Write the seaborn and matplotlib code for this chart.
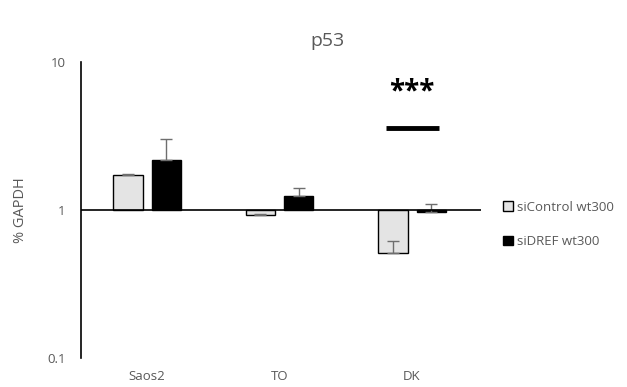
import matplotlib
matplotlib.use("Agg")
import matplotlib.pyplot as plt
import seaborn as sns
import pandas as pd
from matplotlib.patches import Patch

categories = ["Saos2", "TO", "DK"]
conditions = ["siControl wt300", "siDREF wt300"]
si_control = [1.72, 0.93, 0.515]
si_dref = [2.18, 1.25, 0.975]
err_control = [0.03, 0.01, 0.10]
err_dref = [0.84, 0.16, 0.115]
sig_label = "***"
sig_line_y = 3.58
sig_text_y = 6.3

gray = "#595959"
colors = ["#e4e4e4", "#000000"]

df = pd.DataFrame({
    "cell": categories * 2,
    "cond": [conditions[0]] * 3 + [conditions[1]] * 3,
    "value": si_control + si_dref,
})
errs = err_control + err_dref

sns.set_style("white")
plt.rcParams["font.family"] = ["Open Sans", "DejaVu Sans"]

fig = plt.figure(figsize=(6.27, 3.87), dpi=100)
ax = fig.add_axes([0.129, 0.075, 0.638, 0.765])

sns.barplot(data=df, x="cell", y="value", hue="cond", order=categories,
            hue_order=conditions, palette=colors, width=0.576, gap=0.236,
            edgecolor="black", linewidth=1.0, errorbar=None, legend=False, ax=ax)
ax.set_yscale("log")

# bars grow from the 1-line (Excel axis crossing)
for p, e in zip(ax.patches, errs):
    v = p.get_y() + p.get_height()
    p.set_y(min(1.0, v))
    p.set_height(abs(v - 1.0))
    xc = p.get_x() + p.get_width() / 2
    ax.errorbar([xc], [v], yerr=[[0], [e]], fmt="none", ecolor="#6e6e6e",
                elinewidth=1.0, capsize=4, capthick=1.0, zorder=1)

ax.set_ylim(0.1, 10)
ax.set_xlim(-0.5, 2.52)
ax.axhline(1.0, color="black", lw=1.2, zorder=3)

for s in ["top", "right", "bottom"]:
    ax.spines[s].set_visible(False)
ax.spines["left"].set_color("black")
ax.spines["left"].set_linewidth(1.2)

ax.set_yticks([0.1, 1, 10])
ax.set_yticklabels(["0.1", "1", "10"])
ax.minorticks_off()
ax.tick_params(axis="y", length=0, pad=11, labelsize=9.5, labelcolor=gray)
ax.tick_params(axis="x", length=0, pad=9, labelsize=9.5, labelcolor=gray)
ax.set_xticks(range(len(categories)))
ax.set_xticklabels(categories)
ax.set_xlabel("")
ax.set_ylabel("% GAPDH", color=gray, fontsize=10.5, labelpad=14)

# significance
ax.plot([1.80, 2.20], [sig_line_y, sig_line_y], color="black", lw=3.5,
        solid_capstyle="butt")
ax.text(2.0, sig_text_y, sig_label, ha="center", va="center",
        fontsize=20, fontweight="bold", color="black")

fig.text(0.522, 0.895, "p53", ha="center", va="center", fontsize=14, color=gray)

handles = [Patch(facecolor=colors[0], edgecolor="black", lw=1.0),
           Patch(facecolor=colors[1], edgecolor="black", lw=1.0)]
leg = fig.legend(handles, conditions, loc="center left",
                 bbox_to_anchor=(0.783, 0.42), frameon=False, fontsize=9.5,
                 handlelength=0.75, handleheight=0.75, handletextpad=0.35,
                 labelspacing=1.6, labelcolor=gray)

fig.savefig("out.png", dpi=100)
